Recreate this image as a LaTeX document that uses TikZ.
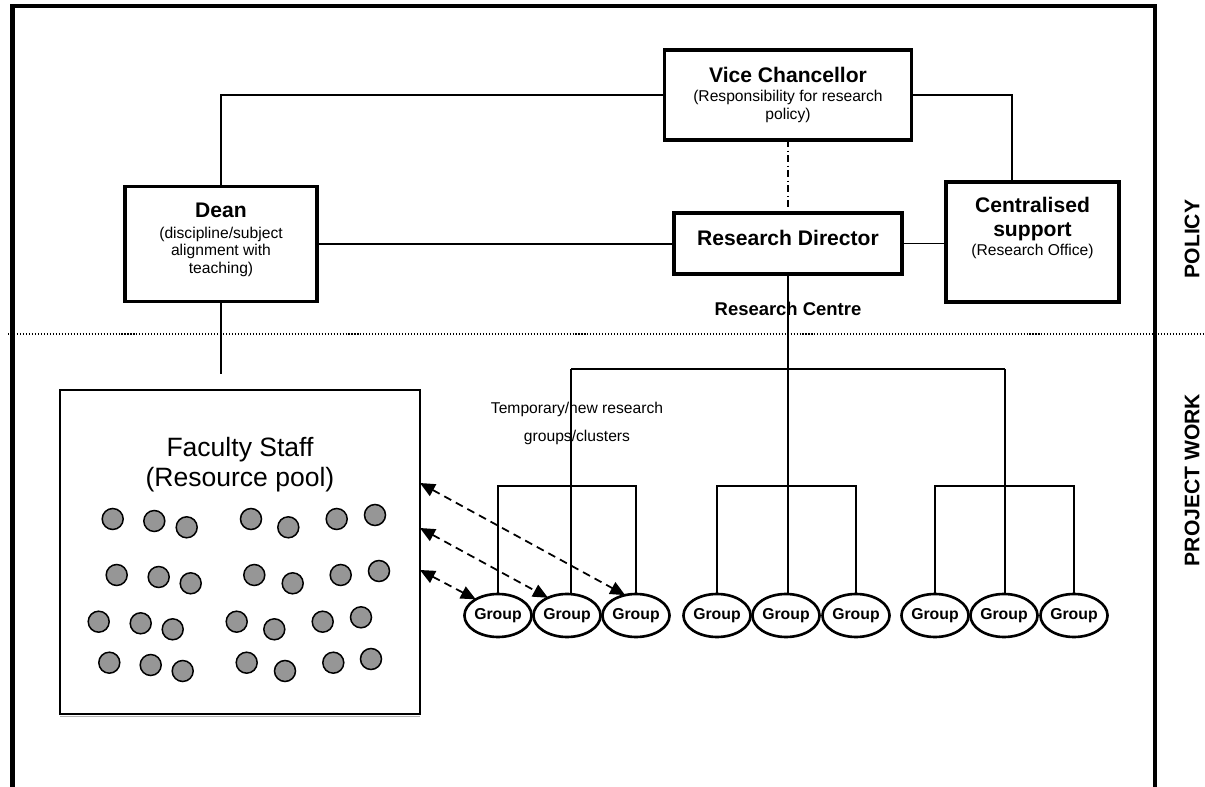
\documentclass[tikz,border=0pt]{standalone}
\usepackage{fontspec}
\setmainfont{Liberation Sans}
\usetikzlibrary{arrows.meta,shapes.geometric}
\definecolor{staffgray}{RGB}{150,150,150}
\newcommand\orgTitle{\fontsize{12}{14}\selectfont\bfseries}
\newcommand\orgSub{\fontsize{8.9}{10.2}\selectfont}
\newcommand\orgGroup{\fontsize{9}{10}\selectfont\bfseries}
\newcommand\orgCentre{\fontsize{10.5}{12}\selectfont\bfseries}
\begin{document}
\begin{tikzpicture}[x=0.02cm,y=-0.02cm,
  box/.style={draw, line width=1.9pt, inner sep=0pt, outer sep=0pt},
  conn/.style={line width=1pt},
  lbl/.style={align=center, inner sep=0pt, font=\orgSub},
  grp/.style={ellipse, draw, line width=1.5pt, minimum width=1.24cm, minimum height=0.86cm, inner sep=0pt, outer sep=0pt, font=\orgGroup},
  person/.style={circle, draw, line width=0.85pt, fill=staffgray, minimum size=0.42cm, inner sep=0pt},
  link/.style={line width=1pt, dash pattern=on 4.5pt off 3pt,
    {Triangle[length=8.5pt,width=7.5pt]}-{Triangle[length=8.5pt,width=7.5pt]}},
  sep/.style={line width=0.6pt, dash pattern=on 0.6pt off 1.1pt},
  side/.style={rotate=90, font=\orgTitle, inner sep=0pt}
]
\useasboundingbox (0,0) rectangle (1205,787);
\fill[white] (0,0) rectangle (1205,787);

% policy / project work separator and outer frame
\draw[sep] (8,334) -- (1205,334);
\draw[line width=2.8pt] (12.5,795) -- (12.5,6) -- (1155,6) -- (1155,795);
\node[side] (policy) at (1192,239) {POLICY};
\node[side] (projwork) at (1192,480) {PROJECT WORK};

% policy level boxes
\node[box, minimum width=4.94cm, minimum height=1.8cm, align=center, font=\orgSub] (vc) at (788,95)
  {{\orgTitle Vice Chancellor}\\[0.7pt](Responsibility for research\\policy)};
\node[box, minimum width=3.84cm, minimum height=2.3cm] (dean) at (221,244) {};
\node[box, minimum width=4.56cm, minimum height=1.22cm] (rd) at (788,243.5) {};
\node[box, minimum width=3.46cm, minimum height=2.4cm] (cs) at (1032.5,242) {};

\node[lbl] (deantext) at (221,240.3)
  {{\orgTitle Dean}\\[1.2pt](discipline/subject\\alignment with\\teaching)};
\node[lbl, font=\orgTitle] (rdtext) at (788,237.5) {Research Director};
\node[lbl] (cstext) at (1032.5,228)
  {{\orgTitle Centralised}\\[3pt]{\orgTitle support}\\[0.7pt](Research Office)};
\node[inner sep=0pt, font=\orgCentre] (rc) at (788,308.7) {Research Centre};

% policy level connectors
\draw[conn] (vc.west) -| (dean.north);
\draw[conn] (vc.east) -| ([xshift=-0.41cm]cs.north);
\draw[conn, dash pattern=on 4pt off 2pt on 0.6pt off 2pt] (vc.south) -- (rd.north);
\draw[conn] (dean.east) -- (dean.east -| rd.west);
\draw[conn] (rd.east) -- (rd.east -| cs.west);
\draw[conn] (dean.south) -- ++(0,72.5) coordinate (deanfoot);

% faculty resource pool
\node[draw, line width=1pt, minimum width=7.2cm, minimum height=6.48cm, inner sep=0pt, outer sep=0pt] (fac) at (240,552) {};
\draw[gray!60, line width=0.6pt] ([yshift=-0.045cm]fac.south west) -- ([yshift=-0.045cm]fac.south east);
\node[align=center, inner sep=0pt, font=\fontsize{15.1}{16.7}\selectfont] (factitle) at (240,464.5)
  {Faculty Staff\\(Resource pool)};
\foreach \px/\py [count=\i] in {
  112.7/519, 154.3/521, 186.7/527.3, 251/519, 288.3/527.3, 336.7/519, 375/515,
  116.7/575, 158.7/577, 190.7/583.3, 254.3/575, 292.7/583.3, 340.7/575, 379/571,
  98.7/621.7, 140.7/623.3, 172.7/629.3, 236.7/621.7, 274.3/629.3, 322.7/621.7, 361/617.3,
  109.3/662.7, 150.7/665, 182.7/671, 246.7/662.7, 285/671, 333.3/662.7, 371/659}
  \node[person] (p\i) at (\px,\py) {};

% project groups
\node[lbl] (temp) at (577,423.4) [font=\fontsize{8.9}{15.6}\selectfont]
  {Temporary/new research\\groups/clusters};
\foreach \gx [count=\i] in {498,567,636} \node[grp] (g1\i) at (\gx,615.5) {Group};
\foreach \gx [count=\i] in {717,786,856} \node[grp] (g2\i) at (\gx,615.5) {Group};
\foreach \gx [count=\i] in {935,1004,1074} \node[grp] (g3\i) at (\gx,615.5) {Group};

\coordinate (bar1) at (571,369);
\coordinate (bar2) at (1005,369);
\draw[conn] (bar1) -- (bar2);
\draw[conn] (rd.south) -- (rd.south |- g22.north);
\draw[conn] (bar1) -- (bar1 |- g12.north);
\draw[conn] (bar2) -- (bar2 |- g32.north);
\draw[conn] (g11.north) -- ++(0,-108) -| (g13.north);
\draw[conn] (g21.north) -- ++(0,-108) -| (g23.north);
\draw[conn] (g31.north) -- ++(0,-108) -| (g33.north);

% staff assignment links
\draw[link] ([yshift=1.38cm]fac.east) -- (g13.118);
\draw[link] ([yshift=0.48cm]fac.east) -- (g12.137);
\draw[link] ([yshift=-0.36cm]fac.east) -- (g11.144);
\end{tikzpicture}
\end{document}
